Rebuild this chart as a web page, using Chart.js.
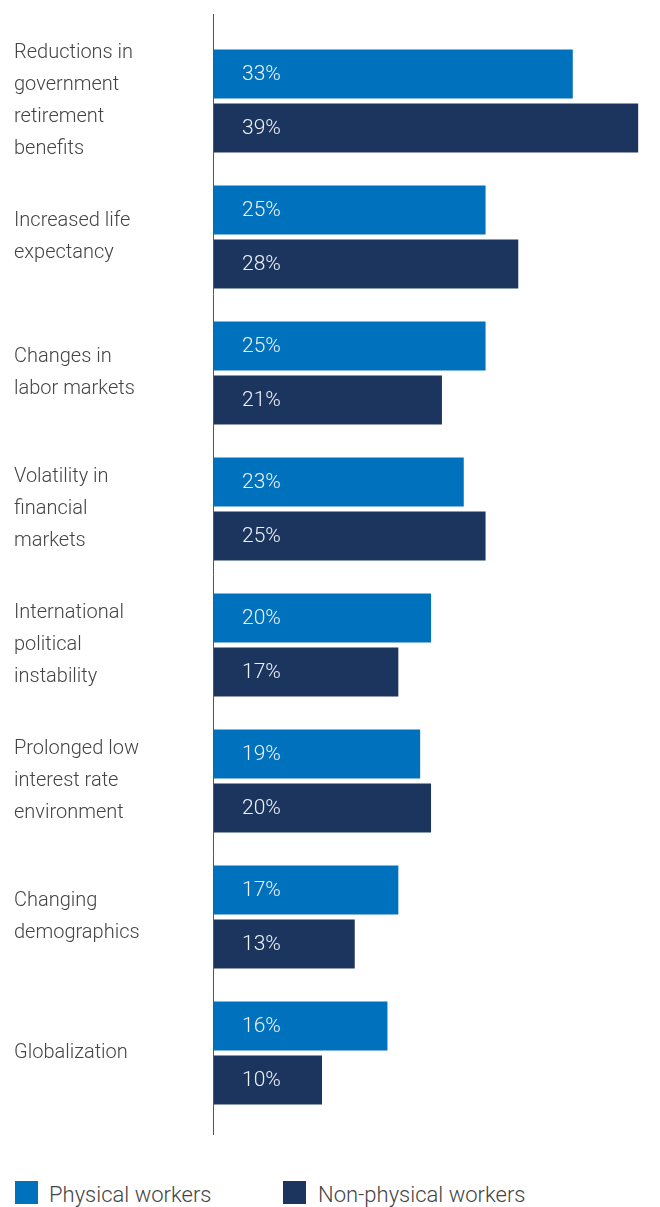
<!DOCTYPE html>
<html>
<head>
<meta charset="utf-8">
<script src="https://cdn.jsdelivr.net/npm/chart.js@4.4.1/dist/chart.umd.min.js"></script>
<style>
  body { margin: 0; background: #fff; font-family: Roboto, sans-serif; }
  #wrap { position: relative; width: 660px; height: 1150px; }
  .legend { position: absolute; top: 1181px; left: 0; width: 660px; height: 26px; font-family: Roboto, sans-serif; font-weight: 300; font-size: 22px; color: #444; }
  .legend span.box { position: absolute; top: 0; width: 23px; height: 23px; }
  .legend span.txt { position: absolute; top: 1px; line-height: 26px; }
</style>
</head>
<body>
<div id="wrap"><canvas id="chart"></canvas></div>
<div class="legend">
  <span class="box" style="left:15px;background:#0071bc"></span><span class="txt" style="left:49px">Physical workers</span>
  <span class="box" style="left:283px;background:#1c355e"></span><span class="txt" style="left:318px">Non-physical workers</span>
</div>
<script>
const categories = [
  ["Reductions in", "government", "retirement", "benefits"],
  ["Increased life", "expectancy"],
  ["Changes in", "labor markets"],
  ["Volatility in", "financial", "markets"],
  ["International", "political", "instability"],
  ["Prolonged low", "interest rate", "environment"],
  ["Changing", "demographics"],
  ["Globalization"]
];
const physical = [33, 25, 25, 23, 20, 19, 17, 16];
const nonPhysical = [39, 28, 21, 25, 17, 20, 13, 10];
const seriesNames = ["Physical workers", "Non-physical workers"];

const BLUE = "#0071bc";
const NAVY = "#1c355e";

// vertical axis line, longer than the plot area
const axisLine = {
  id: "axisLine",
  afterDraw(chart) {
    const ctx = chart.ctx;
    const x = chart.chartArea.left + 0.5;
    ctx.save();
    ctx.strokeStyle = "#555";
    ctx.lineWidth = 1;
    ctx.beginPath();
    ctx.moveTo(x, 14);
    ctx.lineTo(x, 1135);
    ctx.stroke();
    ctx.restore();
  }
};

// percent labels inside the bars
const barLabels = {
  id: "barLabels",
  afterDatasetsDraw(chart) {
    const ctx = chart.ctx;
    ctx.save();
    ctx.font = "300 21px Roboto, sans-serif";
    ctx.fillStyle = "#eef2f7";
    ctx.textAlign = "left";
    ctx.textBaseline = "middle";
    chart.data.datasets.forEach((ds, di) => {
      chart.getDatasetMeta(di).data.forEach((bar, i) => {
        ctx.fillText(ds.data[i] + "%", bar.base + 29, bar.y + 1);
      });
    });
    ctx.restore();
  }
};

new Chart(document.getElementById("chart"), {
  type: "bar",
  data: {
    labels: categories,
    datasets: [
      { label: seriesNames[0], data: physical, backgroundColor: BLUE },
      { label: seriesNames[1], data: nonPhysical, backgroundColor: NAVY }
    ]
  },
  options: {
    indexAxis: "y",
    responsive: true,
    maintainAspectRatio: false,
    animation: false,
    categoryPercentage: 0.794,
    barPercentage: 0.907,
    layout: { padding: { left: 14, right: 0, top: 33, bottom: 29 } },
    scales: {
      x: {
        display: false,
        min: 0,
        max: 41
      },
      y: {
        grid: { display: false, drawTicks: false },
        border: { display: false },
        afterFit(scale) {
          scale.width = 199;
          scale.paddingTop = 0;
          scale.paddingBottom = 0;
        },
        ticks: {
          crossAlign: "far",
          color: "#444",
          padding: 0,
          font: { family: "Roboto, sans-serif", size: 20, weight: 300, lineHeight: "32px" }
        }
      }
    },
    plugins: {
      legend: { display: false },
      tooltip: { enabled: false }
    }
  },
  plugins: [axisLine, barLabels]
});
</script>
</body>
</html>
